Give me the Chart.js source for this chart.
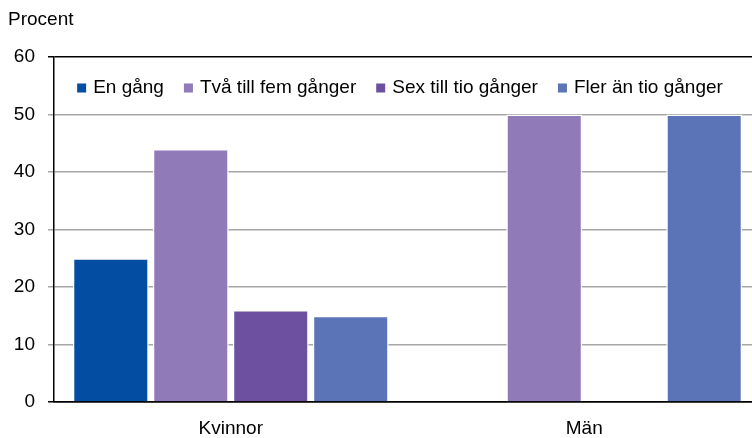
<!DOCTYPE html>
<html>
<head>
<meta charset="utf-8">
<script src="https://cdn.jsdelivr.net/npm/chart.js@4"></script>
<style>
  html, body { margin: 0; padding: 0; background: #fff; overflow: hidden; }
  #wrap { width: 752px; height: 438px; overflow: hidden; position: relative; }
  #box { width: 770px; height: 438px; position: absolute; left: 0; top: 0; }
</style>
</head>
<body>
<div id="wrap"><div id="box"><canvas id="c"></canvas></div></div>
<script>
const categories = ['Kvinnor', 'Män'];
const seriesNames = ['En gång', 'Två till fem gånger', 'Sex till tio gånger', 'Fler än tio gånger'];
const enGang = [25, null];
const tvaTillFem = [44, 50];
const sexTillTio = [16, null];
const flerAnTio = [15, 50];
const yTicks = [0, 10, 20, 30, 40, 50, 60];
const yAxisTitle = 'Procent';

const colors = ['#034EA2', '#907AB8', '#6E50A0', '#5B74B7'];
const FONT = 'Liberation Sans';

const seriesValues = [enGang, tvaTillFem, sexTillTio, flerAnTio];

// Legend drawn inside the plot area, in one row
const insideLegend = {
  id: 'insideLegend',
  afterDraw(chart) {
    const ctx = chart.ctx;
    const area = chart.chartArea;
    ctx.save();
    ctx.font = '19px "' + FONT + '"';
    ctx.textBaseline = 'middle';
    ctx.textAlign = 'left';
    const box = 9, gap = 7, spacing = 20;
    const items = chart.data.datasets.map(d => ({ text: d.label, color: d.backgroundColor, w: ctx.measureText(d.label).width }));
    const total = items.reduce((s, it) => s + box + gap + it.w, 0) + spacing * (items.length - 1);
    let x = 400 - total / 2;
    const y = area.top + 31;
    items.forEach(it => {
      ctx.fillStyle = it.color;
      ctx.fillRect(x, y - box / 2, box, box);
      ctx.fillStyle = '#000';
      ctx.fillText(it.text, x + box + gap, y);
      x += box + gap + it.w + spacing;
    });
    ctx.restore();
  }
};

new Chart(document.getElementById('c'), {
  type: 'bar',
  data: {
    labels: categories,
    datasets: seriesNames.map((n, i) => ({
      label: n,
      data: seriesValues[i],
      backgroundColor: colors[i],
      borderColor: '#ffffff',
      borderWidth: 1.5,
      categoryPercentage: 0.905,
      barPercentage: 0.95
    }))
  },
  plugins: [insideLegend],
  options: {
    responsive: true,
    maintainAspectRatio: false,
    animation: false,
    layout: { padding: { left: 8, right: 9, top: 0, bottom: 0 } },
    plugins: {
      title: {
        display: true,
        text: yAxisTitle,
        align: 'start',
        color: '#000',
        font: { family: FONT, size: 19, weight: 'normal' },
        padding: { top: 8, bottom: 26.2 }
      },
      legend: { display: false },
      tooltip: { enabled: false }
    },
    scales: {
      x: {
        grid: { display: false, drawTicks: false },
        border: { display: true, color: '#000', width: 1.5 },
        ticks: { color: '#000', font: { family: FONT, size: 19 }, padding: 15 },
        afterFit: s => { s.height = 36; }
      },
      y: {
        min: 0, max: 60,
        afterBuildTicks: s => { s.ticks = yTicks.map(v => ({ value: v })); },
        grid: {
          color: c => (c.tick && (c.tick.value === 60 || c.tick.value === 0)) ? '#000' : '#A6A6A6',
          lineWidth: 1.5,
          tickLength: 6,
          drawTicks: true
        },
        border: { display: true, color: '#000', width: 1.5 },
        ticks: { color: '#000', font: { family: FONT, size: 19 }, padding: 13 },
        afterFit: s => { s.width = 46; }
      }
    }
  }
});
</script>
</body>
</html>
